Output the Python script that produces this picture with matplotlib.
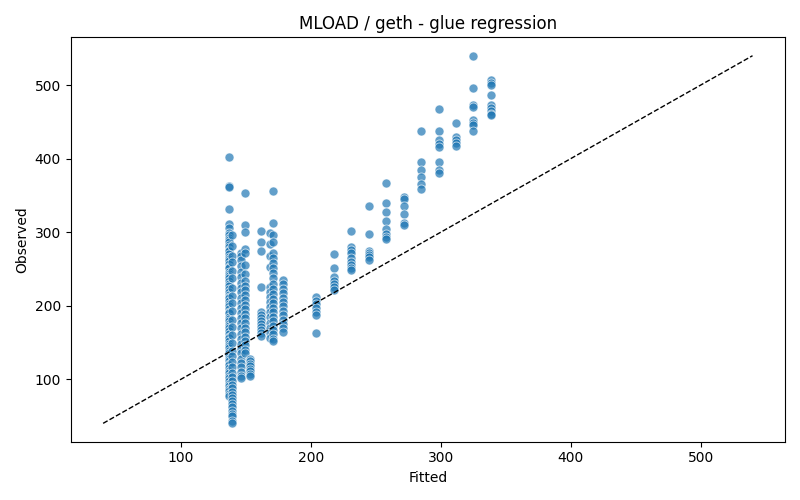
import matplotlib
matplotlib.use("Agg")
import matplotlib.pyplot as plt
import numpy as np

# Fitted levels and the observed values read at each level
fit_137 = 137.3
obs_137 = [402, 363, 361, 331, 311, 306, 299, 296, 292, 289, 287, 283, 280, 276, 274, 270, 266, 263, 261,
           257, 253, 251, 246, 243, 240, 237, 233, 229, 227, 223, 219, 215, 212, 210, 206, 202, 199, 196,
           192, 190, 185, 182, 179, 175, 173, 169, 165, 162, 158, 156, 152, 148, 145, 143, 138, 135, 131,
           128, 125, 121, 119, 115, 111, 108, 104, 101, 98, 94, 91, 87, 84, 80, 77]
fit_139 = 139.3
obs_139 = [296, 281, 268, 259, 247, 238, 224, 213, 204, 193, 181, 171, 160, 149, 139, 131, 123, 116, 109,
           103, 97, 92, 88, 83, 79, 74, 70, 66, 62, 57, 53, 50, 43, 40]
fit_146 = 145.8
obs_146 = [272, 268, 262, 254, 246, 239, 231, 224, 218, 211, 204, 197, 190, 183, 176, 169, 162, 155, 148,
           141, 135, 128, 122, 116, 110, 104, 101]
fit_149 = 149.3
obs_149 = [353, 310, 300, 277, 271, 256, 243, 233, 227, 221, 214, 208, 201, 195, 189, 183, 176, 170, 164,
           158, 152, 146, 140, 136]
fit_153 = 152.8
obs_153 = [128, 125, 121, 118, 114, 111, 107, 104]
fit_162 = 161.6
obs_162 = [301, 286, 274, 226, 191, 187, 183, 179, 175, 171, 167, 163, 159]
fit_168 = 168.5
obs_168 = [299, 284, 267, 253, 226, 219, 212, 205, 198, 191, 184, 177, 170, 163, 156]
fit_171 = 171.0
obs_171 = [356, 313, 296, 286, 272, 265, 258, 251, 244, 237, 230, 223, 216, 209, 203, 197, 191, 185, 179,
           173, 167, 161, 155, 152]
fit_178 = 178.6
obs_178 = [235, 229, 223, 217, 211, 205, 199, 193, 187, 181, 175, 169, 164]
fit_204 = 203.8
obs_204 = [212, 207, 202, 197, 191, 187, 163]
fit_218 = 217.7
obs_218 = [270, 251, 239, 233, 230, 226, 221]
fit_231 = 231.0
obs_231 = [302, 280, 276, 272, 265, 260, 255, 251, 249]
fit_245 = 244.8
obs_245 = [335, 298, 275, 272, 269, 266, 262]
fit_258 = 257.9
obs_258 = [367, 340, 327, 315, 304, 298, 294, 291]
fit_272 = 271.5
obs_272 = [348, 345, 336, 325, 313, 310]
fit_285 = 284.6
obs_285 = [437, 395, 385, 375, 366, 359]
fit_299 = 298.7
obs_299 = [468, 438, 426, 420, 416, 396, 385, 381]
fit_312 = 312.0
obs_312 = [449, 430, 426, 421, 417]
fit_325 = 324.9
obs_325 = [540, 496, 473, 470, 452, 449, 446, 437]
fit_338 = 338.5
obs_338 = [507, 503, 500, 487, 473, 469, 465, 461, 459]

groups = [
    (fit_137, obs_137), (fit_139, obs_139), (fit_146, obs_146), (fit_149, obs_149),
    (fit_153, obs_153), (fit_162, obs_162), (fit_168, obs_168), (fit_171, obs_171),
    (fit_178, obs_178), (fit_204, obs_204), (fit_218, obs_218), (fit_231, obs_231),
    (fit_245, obs_245), (fit_258, obs_258), (fit_272, obs_272), (fit_285, obs_285),
    (fit_299, obs_299), (fit_312, obs_312), (fit_325, obs_325), (fit_338, obs_338),
]

fitted = np.concatenate([np.full(len(o), f) for f, o in groups])
observed = np.concatenate([np.asarray(o, dtype=float) for f, o in groups])

fig, ax = plt.subplots(figsize=(8, 5), dpi=100)
ax.scatter(fitted, observed, s=42, alpha=0.7, color="#1f77b4", edgecolors="white", linewidths=0.6)
lo = min(fitted.min(), observed.min())
hi = max(fitted.max(), observed.max())
ax.plot([lo, hi], [lo, hi], "k--", linewidth=1)
ax.set_title("MLOAD / geth - glue regression")
ax.set_xlabel("Fitted")
ax.set_ylabel("Observed")
fig.tight_layout()
fig.savefig("out.png", dpi=100)
